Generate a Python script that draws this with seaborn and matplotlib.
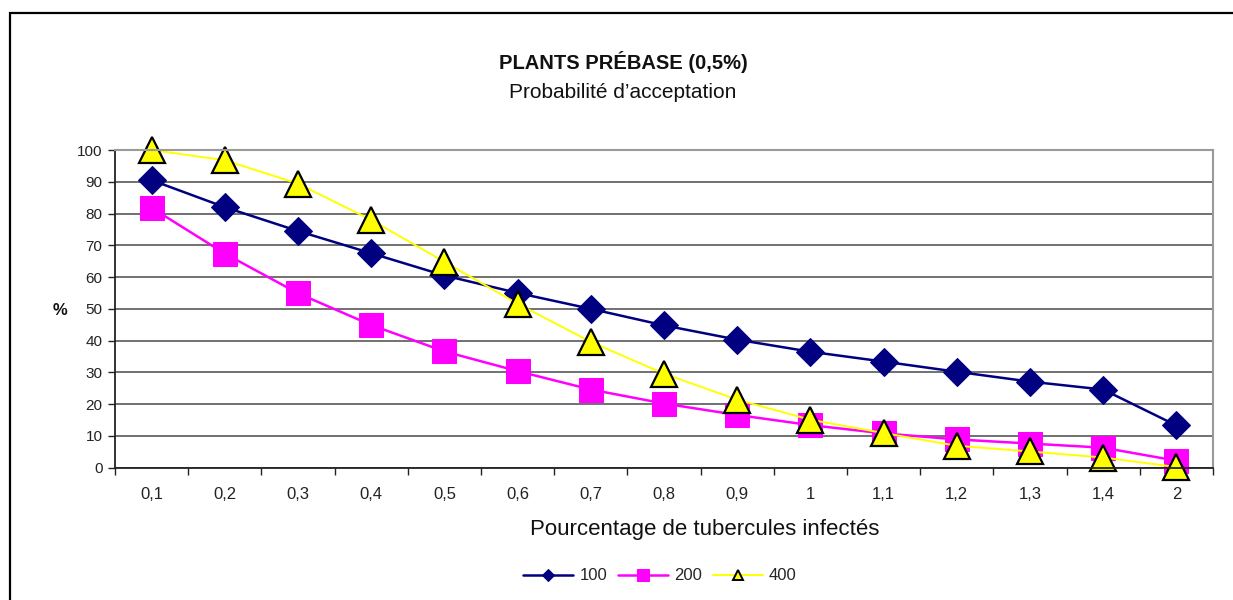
### Import libraries
import numpy as np
import pandas as pd
import matplotlib
matplotlib.use("Agg")
import matplotlib.pyplot as plt
import matplotlib.patches as mpatches
import seaborn as sns

### data
categories = ["0,1", "0,2", "0,3", "0,4", "0,5", "0,6", "0,7", "0,8",
              "0,9", "1", "1,1", "1,2", "1,3", "1,4", "2"]
serie_100 = [90.5, 82, 74.5, 67.5, 60.5, 55, 50, 44.8, 40.3, 36.5,
             33.4, 30.2, 27.1, 24.6, 13.3]
serie_200 = [81.8, 67.4, 54.9, 44.9, 36.6, 30.4, 24.6, 20.2, 16.6, 13.4,
             10.8, 8.9, 7.6, 6.3, 2.2]
serie_400 = [100, 96.8, 89.4, 78, 64.8, 51.6, 39.6, 29.6, 21.4, 15.1,
             10.9, 6.9, 5.1, 3.2, 0.2]
series_names = ["100", "200", "400"]

yticks = list(range(0, 101, 10))


def build_frame():
    positions = np.arange(len(categories))
    frames = []
    for nom, valeurs in zip(series_names, [serie_100, serie_200, serie_400]):
        frames.append(pd.DataFrame({"pos": positions, "valeur": valeurs,
                                    "serie": nom}))
    return pd.concat(frames, ignore_index=True)


def graph_acceptation(donnees, fichier):
    sns.set_style("white")
    plt.rcParams["font.family"] = ["Liberation Sans", "DejaVu Sans"]

    fig = plt.figure(figsize=(12.33, 6.0), dpi=100)
    ax = fig.add_axes([115 / 1233, 1 - 467.7 / 600, 1098 / 1233, 317.7 / 600])

    styles = {
        "100": dict(color="#000080", marker="D", markersize=14.5,
                    markeredgecolor="#000080", lw=1.8),
        "200": dict(color="#FF00FF", marker="s", markersize=17.5,
                    markeredgecolor="#FF00FF", lw=1.8),
        "400": dict(color="#FFFF00", marker="^", markersize=19,
                    markeredgecolor="black", markeredgewidth=1.6, lw=1.4),
    }
    for nom in series_names:
        sous = donnees[donnees["serie"] == nom]
        sns.lineplot(data=sous, x="pos", y="valeur", ax=ax, label=nom,
                     clip_on=False, **styles[nom])

    # grid + axes
    ax.set_xlim(-0.5, len(categories) - 0.5)
    ax.set_ylim(0, 100)
    ax.set_yticks(yticks)
    ax.yaxis.grid(True, color="#4a4a4a", lw=1.1)
    ax.set_axisbelow(True)
    ax.set_xticks(np.arange(len(categories)))
    ax.set_xticklabels(categories)
    ax.set_xticks(np.arange(len(categories) + 1) - 0.5, minor=True)
    ax.tick_params(axis="x", which="major", length=0, pad=14,
                   labelsize=12, labelcolor="#222222")
    ax.tick_params(axis="x", which="minor", length=5, width=1,
                   color="#222222", direction="out", bottom=True)
    ax.tick_params(axis="y", length=5, width=1, color="#222222",
                   direction="out", left=True, labelsize=11,
                   labelcolor="#222222", pad=4)
    for cote in ["left", "bottom"]:
        ax.spines[cote].set_color("#222222")
        ax.spines[cote].set_linewidth(1.3)
    for cote in ["top", "right"]:
        ax.spines[cote].set_color("#9a9a9a")
        ax.spines[cote].set_linewidth(1.5)

    ax.set_xlabel("Pourcentage de tubercules infectés", fontsize=16,
                  color="#111111")
    ax.xaxis.set_label_coords((705 - 115) / 1098, -0.196)
    ax.xaxis.label.set_va("center")
    ax.set_ylabel("%", rotation=0, fontsize=12, fontweight="bold",
                  color="#111111")
    ax.yaxis.set_label_coords(-0.05, 0.496)
    ax.yaxis.label.set_va("center")

    # titles
    fig.text(623 / 1233, 1 - 62 / 600, "PLANTS PRÉBASE (0,5%)",
             ha="center", va="center", fontsize=14.5, fontweight="bold",
             color="#111111")
    fig.text(623 / 1233, 1 - 92 / 600, "Probabilité d’acceptation",
             ha="center", va="center", fontsize=15, color="#111111")

    # legend under the chart
    handles, labels = ax.get_legend_handles_labels()
    ax.legend_.remove()
    leg = fig.legend(handles, labels, loc="center", ncol=3,
                     bbox_to_anchor=(660 / 1233, 1 - 576 / 600),
                     frameon=False, fontsize=12, handlelength=3.0,
                     columnspacing=0.65, handletextpad=0.36)
    for h, taille in zip(leg.legend_handles, [6.5, 8, 7]):
        h.set_markersize(taille)
    leg.legend_handles[2].set_markeredgewidth(1.4)

    # outer frame (left and top edges are visible only)
    cadre = mpatches.Rectangle((10 / 1233, -0.1), 1.2, 1.1 - 13 / 600,
                               transform=fig.transFigure, fill=False,
                               edgecolor="black", lw=1.6)
    fig.add_artist(cadre)

    plt.savefig(fichier, dpi=100)
    plt.close()
    print("graph_acceptation OK")
    return 'done'


if __name__ == "__main__":
    donnees = build_frame()
    graph_acceptation(donnees, "out.png")
